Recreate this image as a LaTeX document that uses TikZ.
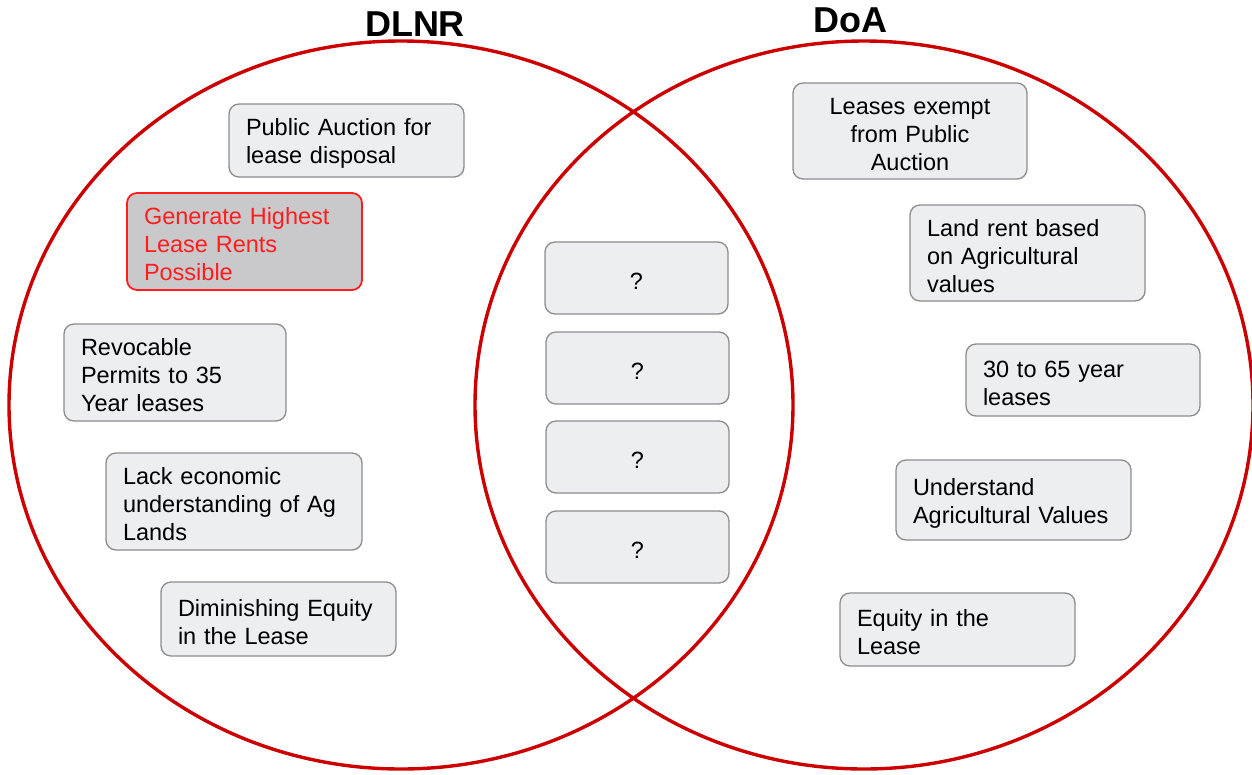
\documentclass[tikz,border=0pt]{standalone}
\usepackage{fontspec}
\setmainfont{Liberation Sans}
\definecolor{vennred}{RGB}{204,0,0}
\definecolor{cardfill}{RGB}{237,238,240}
\definecolor{cardline}{RGB}{140,140,142}
\definecolor{hotred}{RGB}{255,30,30}
\definecolor{hotfill}{RGB}{201,201,203}
\begin{document}
\begin{tikzpicture}[x=1pt,y=-1pt,
  ring/.style={draw=vennred, line width=3.4pt},
  card/.style={draw=cardline, fill=cardfill, line width=1.3pt,
    rounded corners=10pt, font=\fontsize{23.5}{28}\selectfont,
    text=black, inner xsep=17pt, inner ysep=0pt, align=left,
    execute at begin node={\rule{0pt}{23pt}}},
  hotcard/.style={card, draw=hotred, fill=hotfill, text=hotred, line width=1.8pt},
  title/.style={font=\bfseries\fontsize{36}{40}\selectfont, text=black}
]
\useasboundingbox (0,0) rectangle (1252,774);

% the two sets
\draw[ring] (401,405) ellipse [x radius=392, y radius=364];
\draw[ring] (864,405) ellipse [x radius=389, y radius=364];

\node[title] (dlnr) at (415,24) {DLNR};
\node[title] (doa)  at (850,20) {DoA};

% DLNR only
\node[card, minimum width=235pt, minimum height=73pt, text width=201pt]
  (auction) at (346.5,140.5) {Public Auction for\\lease disposal};
\node[hotcard, minimum width=235pt, minimum height=97pt, text width=201pt]
  (highest) at (244.5,241.5) {Generate Highest\\Lease Rents\\Possible};
\node[card, minimum width=222pt, minimum height=97pt, text width=188pt]
  (revocable) at (175,372.5) {Revocable\\Permits to 35\\Year leases};
\node[card, minimum width=256pt, minimum height=97pt, text width=222pt]
  (lack) at (234,501.5) {Lack economic\\understanding of Ag\\Lands};
\node[card, minimum width=235pt, minimum height=74pt, text width=201pt]
  (diminish) at (278.5,619) {Diminishing Equity\\in the Lease};

% shared
\node[card, align=center, minimum width=183pt, minimum height=72pt, text width=149pt]
  (q1) at (636.5,278) {?};
\node[card, align=center, minimum width=183pt, minimum height=72pt, text width=149pt]
  (q2) at (637.5,368) {?};
\node[card, align=center, minimum width=183pt, minimum height=72pt, text width=149pt]
  (q3) at (637.5,457) {?};
\node[card, align=center, minimum width=183pt, minimum height=72pt, text width=149pt]
  (q4) at (637.5,547) {?};

% DoA only
\node[card, align=center, minimum width=234pt, minimum height=96pt, text width=200pt]
  (exempt) at (910,131) {Leases exempt\\from Public\\Auction};
\node[card, minimum width=235pt, minimum height=96pt, text width=201pt]
  (landrent) at (1027.5,253) {Land rent based\\on Agricultural\\values};
\node[card, minimum width=234pt, minimum height=72pt, text width=200pt]
  (years) at (1083,380) {30 to 65 year\\leases};
\node[card, minimum width=235pt, minimum height=80pt, text width=201pt]
  (understand) at (1013.5,500) {Understand\\Agricultural Values};
\node[card, minimum width=235pt, minimum height=73pt, text width=201pt]
  (equity) at (957.5,629.5) {Equity in the\\Lease};
\end{tikzpicture}
\end{document}
